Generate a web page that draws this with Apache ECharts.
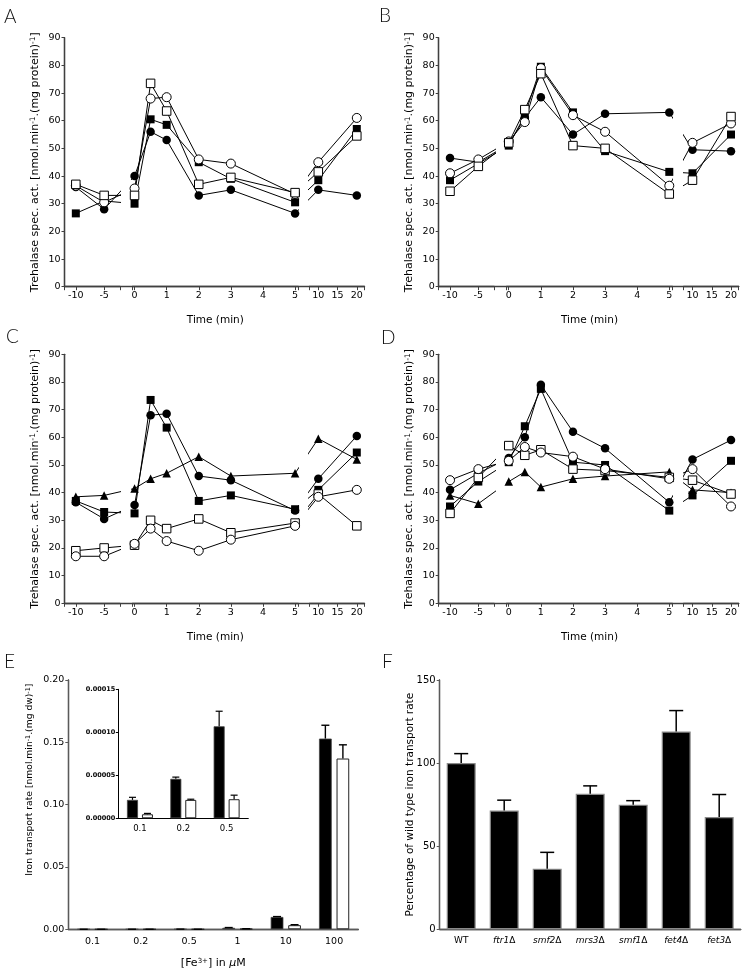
<!DOCTYPE html>
<html><head><meta charset="utf-8">
<script src="https://cdn.jsdelivr.net/npm/echarts@6/dist/echarts.min.js"></script>
<style>html,body{margin:0;padding:0;background:#fff}#c{width:747px;height:977px}</style>
</head><body><div id="c"></div>
<script>
// ================= DATA =================
// Panels A-D: trehalase specific activity over time
const times = [-10, -5, 0, 0.5, 1, 2, 3, 5, 10, 20];
const segTickLabels = [[-10, -5], [0, 1, 2, 3, 4, 5], [10, 15, 20]];

const A_fc = [36, 28, 40, 56, 53, 33, 35, 26.5, 35, 33];          // filled circle
const A_oc = [36.5, 30.5, 35.5, 68, 68.5, 46, 44.5, 33.5, 45, 61];  // open circle
const A_fs = [26.5, 31, 30, 60.5, 58.5, 45, 39, 30.5, 38.5, 57];    // filled square
const A_os = [37, 33, 33, 73.5, 63.5, 37, 39.5, 34, 41.5, 54.5];    // open square

const B_fc = [46.5, 45, 51.5, 61, 68.5, 55, 62.5, 63, 49.5, 49];
const B_oc = [41, 46, 52.5, 59.5, 79, 62, 56, 36.5, 52, 59];
const B_fs = [38.5, 44.5, 51, 62, 79.5, 63, 49, 41.5, 41, 55];
const B_os = [34.5, 43.5, 52, 64, 77, 51, 50, 33.5, 38.5, 61.5];

const C_fc = [36.5, 30.5, 35.5, 68, 68.5, 46, 44.5, 33.5, 45, 60.5];
const C_fs = [37, 33, 32.5, 73.5, 63.5, 37, 39, 34, 41, 54.5];
const C_ft = [38.5, 39, 41.5, 45, 47, 53, 46, 47, 59.5, 52];       // filled triangle
const C_os = [19, 20, 21, 30, 27, 30.5, 25.5, 29, 39.5, 28];
const C_oc = [17, 17, 21.5, 27, 22.5, 19, 23, 28, 38.5, 41];

const D_fc = [41, 47, 52.5, 60, 79, 62, 56, 36.5, 52, 59];
const D_fs = [35, 44, 51, 64, 77.5, 51, 50, 33.5, 39, 51.5];
const D_oc = [44.5, 48.5, 51.5, 56.5, 54.5, 53, 48.5, 45, 48.5, 35];
const D_os = [32.5, 45.5, 57, 53.5, 55.5, 48.5, 48, 45.5, 44.5, 39.5];
const D_ft = [39, 36, 44, 47.5, 42, 45, 46, 47.5, 41, 40];

// Panel E: iron transport rate
const E_cats = ['0.1', '0.2', '0.5', '1', '10', '100'];
const E_black = [0.0000214, 0.0000459, 0.000107, 0.0012, 0.0099, 0.153];
const E_blackErr = [0.000003, 0.000002, 0.0000175, 0.0002, 0.0003, 0.0107];
const E_white = [0.0000047, 0.0000214, 0.0000222, 0.0004, 0.0033, 0.137];
const E_whiteErr = [0.000001, 0.0000008, 0.0000047, 0.0001, 0.0004, 0.011];
// Inset of E
const Ei_cats = ['0.1', '0.2', '0.5'];
const Ei_black = E_black.slice(0, 3);
const Ei_blackErr = E_blackErr.slice(0, 3);
const Ei_white = E_white.slice(0, 3);
const Ei_whiteErr = E_whiteErr.slice(0, 3);

// Panel F: percentage of wild type iron transport rate
const F_cats = ['WT', 'ftr1Δ', 'smf2Δ', 'mrs3Δ', 'smf1Δ', 'fet4Δ', 'fet3Δ'];
const F_vals = [100, 71.5, 36.5, 81.5, 75, 119, 67.5];
const F_err = [5.7, 6.2, 9.8, 4.8, 2.4, 12.6, 13.6];

// ================= STYLE / LAYOUT =================
const FONT = 'DejaVu Sans';
const AXC = '#404040';
const AXW = 1.3;
const PANEL_L = [64.5, 438.7];
const PANEL_T = [37.7, 354.3];
const PW = 300, PH = 249;
const SEGS = [
  {dx: 0, w: 55.5, min: -12, max: -2.2},
  {dx: 67.8, w: 166, min: -0.07, max: 5.1},
  {dx: 244.8, w: 55.2, min: 7.66, max: 22}
];
const MARK = {
  fc: {symbol: 'circle', size: 8.5, filled: true},
  oc: {symbol: 'circle', size: 9, filled: false},
  fs: {symbol: 'rect', size: 8, filled: true},
  os: {symbol: 'rect', size: 8.5, filled: false},
  ft: {symbol: 'triangle', size: 8.5, filled: true}
};

function segOf(t) { return t < -1 ? 0 : (t <= 5.5 ? 1 : 2); }
function pxOf(t) { const s = SEGS[segOf(t)]; return s.dx + (t - s.min) / (s.max - s.min) * s.w; }
function inSeg(t, k) { const s = SEGS[k]; return s.min + (pxOf(t) - s.dx) / s.w * (s.max - s.min); }

const grids = [], xAxes = [], yAxes = [], series = [], graphics = [];

function addGrid(rect) {
  grids.push(Object.assign({outerBoundsMode: 'none', containLabel: false}, rect));
  return grids.length - 1;
}
function addFrame(left, top, width, height, color) {
  const gi = addGrid({left, top, width, height});
  xAxes.push({gridIndex: gi, type: 'value', position: 'top', min: 0, max: 1,
    axisLine: {show: true, lineStyle: {color: color, width: AXW}}, axisTick: {show: false},
    axisLabel: {show: false}, splitLine: {show: false}});
  yAxes.push({gridIndex: gi, type: 'value', position: 'right', min: 0, max: 1,
    axisLine: {show: true, lineStyle: {color: color, width: AXW}}, axisTick: {show: false},
    axisLabel: {show: false}, splitLine: {show: false}});
}

function richSup(fs) {
  return {sup: {fontFamily: FONT, fontSize: fs, verticalAlign: 'top', color: '#000'}};
}

function addTimePanel(col, row, defs) {
  const L = PANEL_L[col], T = PANEL_T[row];
  SEGS.forEach((s, k) => {
    const gi = addGrid({left: L + s.dx, top: T, width: s.w, height: PH});
    const labels = segTickLabels[k];
    const xa = {gridIndex: gi, type: 'value', min: s.min, max: s.max,
      axisLine: {show: true, onZero: false, lineStyle: {color: AXC, width: AXW}},
      axisTick: {show: true, length: 3.5, lineStyle: {color: AXC, width: 1},
        customValues: [s.min].concat(labels, [s.max])},
      axisLabel: {show: true, margin: 4, fontFamily: FONT, fontSize: 9.5, color: '#000',
        customValues: labels, hideOverlap: false},
      splitLine: {show: false}};
    if (k === 1) {
      Object.assign(xa, {name: 'Time (min)', nameLocation: 'middle', nameGap: 28,
        nameTextStyle: {fontFamily: FONT, fontSize: 10.5, color: '#000'}});
    }
    xAxes.push(xa);
    const ya = {gridIndex: gi, type: 'value', min: 0, max: 90, interval: 10, show: k === 0,
      axisLine: {show: true, lineStyle: {color: AXC, width: AXW}},
      axisTick: {show: true, length: 3, lineStyle: {color: AXC, width: 1}},
      axisLabel: {margin: 4, fontFamily: FONT, fontSize: 9.5, color: '#000'},
      splitLine: {show: false}};
    if (k === 0) {
      Object.assign(ya, {name: 'Trehalase spec. act. [nmol.min{sup|-1}.(mg protein){sup|-1}]',
        nameLocation: 'middle', nameRotate: 90, nameGap: 24, nameMoveOverlap: false,
        nameTextStyle: {fontFamily: FONT, fontSize: 11, color: '#000', rich: richSup(7.5)}});
    }
    yAxes.push(ya);
    defs.forEach(([key, vals]) => {
      const m = MARK[key];
      series.push({type: 'line', xAxisIndex: gi, yAxisIndex: gi, clip: true, animation: false,
        data: times.map((t, i) => [inSeg(t, k), vals[i]]),
        symbol: m.symbol, symbolSize: m.size, showAllSymbol: true,
        lineStyle: {color: '#000', width: 1},
        itemStyle: {color: m.filled ? '#000' : '#fff', borderColor: '#000', borderWidth: m.filled ? 0 : 1},
        emphasis: {disabled: true}});
    });
  });
  addFrame(L, T, PW, PH, AXC);
}

addTimePanel(0, 0, [['fc', A_fc], ['fs', A_fs], ['oc', A_oc], ['os', A_os]]);
addTimePanel(1, 0, [['fc', B_fc], ['fs', B_fs], ['oc', B_oc], ['os', B_os]]);
addTimePanel(0, 1, [['fc', C_fc], ['fs', C_fs], ['ft', C_ft], ['os', C_os], ['oc', C_oc]]);
addTimePanel(1, 1, [['fc', D_fc], ['fs', D_fs], ['ft', D_ft], ['os', D_os], ['oc', D_oc]]);

function errSeries(gi, cats, vals, errs, offset, cap, lw) {
  return {type: 'custom', xAxisIndex: gi, yAxisIndex: gi, animation: false, z: 3,
    data: cats.map((c, i) => [i, vals[i], errs[i]]),
    renderItem: (params, api) => {
      const i = api.value(0), v = api.value(1), e = api.value(2);
      const b = api.coord([i, v]), t = api.coord([i, v + e]);
      const x = b[0] + offset;
      return {type: 'group', children: [
        {type: 'line', shape: {x1: x, y1: b[1], x2: x, y2: t[1]}, style: {stroke: '#000', lineWidth: lw}},
        {type: 'line', shape: {x1: x - cap / 2, y1: t[1], x2: x + cap / 2, y2: t[1]}, style: {stroke: '#000', lineWidth: lw}}
      ]};
    }};
}

// ---- Panel E ----
const EC = '#5a5a5a';
(function () {
  const L = 68.3, T = 680, W = 290, H = 249.3;
  const gi = addGrid({left: L, top: T, width: W, height: H});
  xAxes.push({gridIndex: gi, type: 'category', data: E_cats,
    axisLine: {show: true, lineStyle: {color: EC, width: AXW}}, axisTick: {show: false},
    axisLabel: {margin: 7, fontFamily: FONT, fontSize: 9.5, color: '#000'},
    name: '[Fe{sup|3+}] in {it|μ}M', nameLocation: 'middle', nameGap: 28,
    nameTextStyle: {fontFamily: FONT, fontSize: 11, color: '#000',
      rich: {sup: {fontFamily: FONT, fontSize: 7, verticalAlign: 'top', color: '#000'},
             it: {fontFamily: FONT, fontSize: 11, fontStyle: 'italic', color: '#000'}}}});
  yAxes.push({gridIndex: gi, type: 'value', min: 0, max: 0.2, interval: 0.05,
    axisLine: {show: true, lineStyle: {color: EC, width: AXW}},
    axisTick: {show: true, length: 3, lineStyle: {color: EC}},
    axisLabel: {margin: 4, fontFamily: FONT, fontSize: 9.5, color: '#000', formatter: v => v.toFixed(2)},
    splitLine: {show: false},
    name: 'Iron transport rate [nmol.min{sup|-1}.(mg dw){sup|-1}]', nameLocation: 'middle',
    nameRotate: 90, nameGap: 34, nameMoveOverlap: false,
    nameTextStyle: {fontFamily: FONT, fontSize: 9.2, color: '#000', rich: richSup(6.5), padding: [0, 0, 0, 50]}});
  series.push({type: 'bar', xAxisIndex: gi, yAxisIndex: gi, data: E_black, barWidth: 12.7, barGap: '38%',
    animation: false, itemStyle: {color: '#000', borderColor: '#444', borderWidth: 0.8}});
  series.push({type: 'bar', xAxisIndex: gi, yAxisIndex: gi, data: E_white, barWidth: 12.7, barGap: '38%',
    animation: false, itemStyle: {color: '#fff', borderColor: '#222', borderWidth: 1}});
  const off = (12.7 + 12.7 * 0.38) / 2;
  series.push(errSeries(gi, E_cats, E_black, E_blackErr, -off, 8, 1.4));
  series.push(errSeries(gi, E_cats, E_white, E_whiteErr, off, 8, 1.4));
  addFrame(L, T, W, H, EC);

  // inset
  const gj = addGrid({left: 118.3, top: 689.3, width: 130, height: 129});
  xAxes.push({gridIndex: gj, type: 'category', data: Ei_cats,
    axisLine: {show: true, lineStyle: {color: '#000', width: 1}}, axisTick: {show: false},
    axisLabel: {margin: 6, fontFamily: FONT, fontSize: 8.5, color: '#000'}});
  yAxes.push({gridIndex: gj, type: 'value', min: 0, max: 0.00015, interval: 0.00005,
    axisLine: {show: true, lineStyle: {color: '#000', width: 1}},
    axisTick: {show: true, length: 2.5, lineStyle: {color: '#000'}},
    axisLabel: {margin: 3, fontFamily: FONT, fontSize: 6.5, fontWeight: 'bold', color: '#000',
      formatter: v => v.toFixed(5)},
    splitLine: {show: false}});
  series.push({type: 'bar', xAxisIndex: gj, yAxisIndex: gj, data: Ei_black, barWidth: 11, barGap: '36%',
    animation: false, itemStyle: {color: '#000', borderColor: '#444', borderWidth: 0.8}});
  series.push({type: 'bar', xAxisIndex: gj, yAxisIndex: gj, data: Ei_white, barWidth: 11, barGap: '36%',
    animation: false, itemStyle: {color: '#fff', borderColor: '#222', borderWidth: 1}});
  const off2 = (11 + 11 * 0.36) / 2;
  series.push(errSeries(gj, Ei_cats, Ei_black, Ei_blackErr, -off2, 7, 1.2));
  series.push(errSeries(gj, Ei_cats, Ei_white, Ei_whiteErr, off2, 7, 1.2));
})();

// ---- Panel F ----
(function () {
  const L = 439.7, T = 680, W = 301, H = 249.3;
  const gi = addGrid({left: L, top: T, width: W, height: H});
  xAxes.push({gridIndex: gi, type: 'category', data: F_cats,
    axisLine: {show: true, lineStyle: {color: EC, width: AXW}}, axisTick: {show: false},
    axisLabel: {margin: 7, fontFamily: FONT, fontSize: 9, color: '#000', interval: 0,
      formatter: v => v === 'WT' ? v : '{i|' + v.slice(0, -1) + '}' + v.slice(-1),
      rich: {i: {fontFamily: FONT, fontSize: 9, fontStyle: 'italic', color: '#000'}}}});
  yAxes.push({gridIndex: gi, type: 'value', min: 0, max: 150, interval: 50,
    axisLine: {show: true, lineStyle: {color: EC, width: AXW}},
    axisTick: {show: true, length: 3, lineStyle: {color: EC}},
    axisLabel: {margin: 4, fontFamily: FONT, fontSize: 10, color: '#000'},
    splitLine: {show: false},
    name: 'Percentage of wild type iron transport rate', nameLocation: 'middle',
    nameRotate: 90, nameGap: 24, nameMoveOverlap: false,
    nameTextStyle: {fontFamily: FONT, fontSize: 10.5, color: '#000'}});
  series.push({type: 'bar', xAxisIndex: gi, yAxisIndex: gi, data: F_vals, barWidth: 29,
    animation: false, itemStyle: {color: '#000', borderColor: '#8a8a8a', borderWidth: 1.2}});
  series.push(errSeries(gi, F_cats, F_vals, F_err, 0, 14, 1.5));
  addFrame(L, T, W, H, EC);
})();

// panel letters
[['A', 4, 7], ['B', 379, 6], ['C', 6, 327], ['D', 381, 328], ['E', 4, 652], ['F', 382, 652]].forEach(([t, x, y]) => {
  graphics.push({type: 'text', left: x, top: y,
    style: {text: t, fontFamily: "'DejaVu Sans ExtraLight', 'Lato', 'DejaVu Sans'", fontWeight: 300, fontSize: 19, fill: '#111'}});
});

const chart = echarts.init(document.getElementById('c'), null, {renderer: 'canvas', width: 747, height: 977});
chart.setOption({
  animation: false,
  backgroundColor: '#fff',
  textStyle: {fontFamily: FONT},
  grid: grids, xAxis: xAxes, yAxis: yAxes, series: series, graphic: graphics
});
</script></body></html>
